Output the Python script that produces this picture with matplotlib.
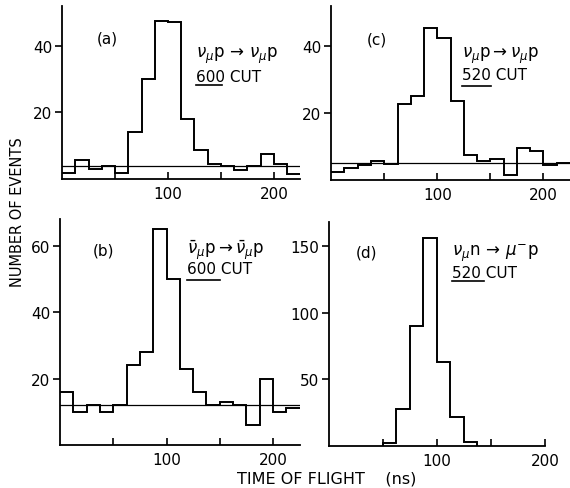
import matplotlib.pyplot as plt

plt.rcParams['font.family'] = ['DejaVu Sans']
plt.rcParams['mathtext.fontset'] = 'dejavusans'

# bin edges in ns (12.5 ns bins)
edges = [0, 12.5, 25, 37.5, 50, 62.5, 75, 87.5, 100, 112.5, 125, 137.5,
         150, 162.5, 175, 187.5, 200, 212.5, 225]
edges_d = [50, 62.5, 75, 87.5, 100, 112.5, 125, 137.5]

# counts
counts_a = [1.8, 5.7, 3, 3.9, 1.8, 14, 30, 47.5, 47, 18, 8.8, 4.6, 4, 2.7, 3.8, 7.5, 4.5, 1.4]
counts_b = [16, 10, 12, 10, 12, 24, 28, 65, 50, 23, 16, 12, 13, 12, 6, 20, 10, 11]
counts_c = [2.5, 3.5, 4.6, 5.7, 4.8, 22.7, 25, 45.4, 42.4, 23.7, 7.5, 5.6, 6.4, 1.4, 9.5, 8.6, 4.5, 5]
counts_d = [2, 28, 90, 156, 63, 22, 3]

# flat background levels
bg_a = 3.9
bg_b = 12
bg_c = 5.2

labels = ['(a)', '(b)', '(c)', '(d)']
reactions = [r'$\nu_\mu$p$\,\rightarrow\,\nu_\mu$p',
             r'$\bar{\nu}_\mu$p$\rightarrow\bar{\nu}_\mu$p',
             r'$\nu_\mu$p$\rightarrow\nu_\mu$p',
             r'$\nu_\mu$n$\,\rightarrow\,\mu^{-}$p']
cuts = ['600', '600', '520', '520']

fig = plt.figure(figsize=(5.7, 4.89), dpi=100)

ax_a = fig.add_axes([0.109, 0.632, 0.418, 0.354])
ax_c = fig.add_axes([0.581, 0.630, 0.419, 0.356])
ax_b = fig.add_axes([0.105, 0.088, 0.421, 0.462])
ax_d = fig.add_axes([0.577, 0.086, 0.379, 0.458])

ax_a.stairs(counts_a, edges, baseline=None, color='black', lw=1.4)
ax_a.axhline(bg_a, color='black', lw=0.9)
ax_b.stairs(counts_b, edges, baseline=None, color='black', lw=1.4)
ax_b.axhline(bg_b, color='black', lw=0.9)
ax_c.stairs(counts_c, edges, baseline=None, color='black', lw=1.4)
ax_c.axhline(bg_c, color='black', lw=0.9)
ax_d.stairs(counts_d, edges_d, baseline=0, color='black', lw=1.4)

ax_a.set_xlim(0, 225)
ax_b.set_xlim(0, 225)
ax_c.set_xlim(0, 225)
ax_d.set_xlim(0, 200)
ax_a.set_ylim(0, 52)
ax_c.set_ylim(0, 52)
ax_b.set_ylim(0, 68)
ax_d.set_ylim(0, 168)

ax_a.set_yticks([20, 40])
ax_c.set_yticks([20, 40])
ax_b.set_yticks([20, 40, 60])
ax_d.set_yticks([50, 100, 150])

# text positions in axes fraction:
# label x, y, reaction x, y, cut y, underline y, underline end x
pos = {
    'a': (ax_a, 0.19, 0.815, 0.56, 0.715, 0.59, 0.543, 0.672),
    'b': (ax_b, 0.18, 0.863, 0.53, 0.868, 0.779, 0.73, 0.667),
    'c': (ax_c, 0.19, 0.81, 0.546, 0.72, 0.605, 0.54, 0.671),
    'd': (ax_d, 0.176, 0.866, 0.57, 0.862, 0.775, 0.738, 0.717),
}

for i, key in enumerate(['a', 'b', 'c', 'd']):
    ax, lx, ly, rx, ry, cy, uy, ux = pos[key]
    for s in ['top', 'right']:
        ax.spines[s].set_visible(False)
    ax.spines['left'].set_linewidth(1.3)
    ax.spines['bottom'].set_linewidth(1.3)
    ax.set_xticks([50, 100, 150, 200])
    ax.set_xticklabels(['', '100', '', '200'])
    ax.tick_params(axis='x', direction='in', length=5, width=1.2, labelsize=11, pad=5)
    ax.tick_params(axis='y', direction='out', length=5, width=1.2, labelsize=11, pad=2)
    ax.text(lx, ly, labels[i], transform=ax.transAxes,
            fontsize=11, va='center', ha='center')
    ax.text(rx, ry, reactions[i], transform=ax.transAxes,
            fontsize=12, va='center', ha='left')
    ax.text(rx, cy, cuts[i] + ' CUT', transform=ax.transAxes,
            fontsize=11, va='center', ha='left')
    ax.plot([rx, ux], [uy, uy], transform=ax.transAxes, color='black',
            lw=1.2, clip_on=False)

fig.text(0.03, 0.566, 'NUMBER OF EVENTS', rotation=90, ha='center', va='center',
         fontsize=10.5)
fig.text(0.574, 0.02, 'TIME OF FLIGHT    (ns)', ha='center', va='center',
         fontsize=11.5)

fig.savefig('out.png', dpi=100)
